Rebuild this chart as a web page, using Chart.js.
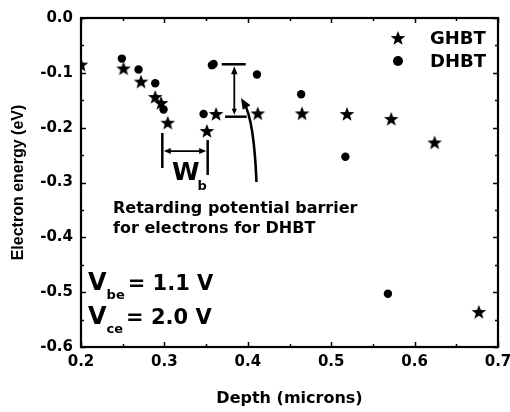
<!DOCTYPE html>
<html><head><meta charset="utf-8">
<script src="https://cdn.jsdelivr.net/npm/chart.js@4/dist/chart.umd.min.js"></script>
<style>html,body{margin:0;padding:0;background:#fff}#wrap{width:510px;height:412px}</style>
</head><body><div id="wrap"><canvas id="c" width="510" height="412"></canvas></div>
<script>
// ---- data ----
const ghbtDepth = [0.200, 0.251, 0.272, 0.289, 0.296, 0.304, 0.351, 0.362, 0.412, 0.465, 0.519, 0.572, 0.624, 0.677];
const ghbtEnergy = [-0.085, -0.092, -0.116, -0.144, -0.155, -0.191, -0.206, -0.175, -0.174, -0.174, -0.175, -0.184, -0.227, -0.536];
const dhbtDepth = [0.249, 0.269, 0.289, 0.299, 0.347, 0.357, 0.359, 0.411, 0.464, 0.517, 0.568];
const dhbtEnergy = [-0.074, -0.094, -0.119, -0.167, -0.175, -0.086, -0.084, -0.103, -0.139, -0.253, -0.503];
const xTickValues = [0.2, 0.3, 0.4, 0.5, 0.6, 0.7];
const xMinorValues = [0.25, 0.35, 0.45, 0.55, 0.65];
const yTickValues = [0.0, -0.1, -0.2, -0.3, -0.4, -0.5, -0.6];
const yMinorValues = [-0.05, -0.15, -0.25, -0.35, -0.45, -0.55];
const seriesNames = ['GHBT', 'DHBT'];

// annotation geometry in data units
const wbBars = [{x: 0.2975, y1: -0.2097, y2: -0.2736}, {x: 0.3519, y1: -0.2225, y2: -0.2863}];
const wbArrow = {x1: 0.2975, x2: 0.3519, y: -0.2426};
const barrierBars = [{x1: 0.3687, x2: 0.3975, y: -0.0844}, {x1: 0.3727, x2: 0.3987, y: -0.180}];
const barrierArrow = {x: 0.3838, y1: -0.0844, y2: -0.180};
const curveArrow = {p0: [0.4104, -0.2991], c: [0.4074, -0.1860], p2: [0.3918, -0.1459]};
const noteLines = ['Retarding potential barrier', 'for electrons for DHBT'];
const notePos = {x: 0.2384, y: [-0.3562, -0.3927]};
const biasLines = [['V', 'be', '= 1.1 V'], ['V', 'ce', '= 2.0 V']];
const biasPos = {x: 0.2084, y: [-0.4961, -0.5581]};
const wbPos = {x: 0.3091, y: -0.2955};

const HF = '"DejaVu Sans", sans-serif';

function makeStar(size){
  const c = document.createElement('canvas');
  c.width = size; c.height = size;
  const g = c.getContext('2d');
  const cx = size/2, cy = size/2 + 0.6, R = size/2 - 0.3, r = R*0.42;
  g.beginPath();
  for (let i = 0; i < 10; i++){
    const rad = i % 2 ? r : R;
    const a = -Math.PI/2 + i*Math.PI/5;
    const px = cx + rad*Math.cos(a), py = cy + rad*Math.sin(a);
    i ? g.lineTo(px, py) : g.moveTo(px, py);
  }
  g.closePath(); g.fillStyle = '#000'; g.fill();
  return c;
}
const star = makeStar(16);

function head(ctx, x, y, ang, len, hw){
  ctx.beginPath();
  ctx.moveTo(x, y);
  ctx.lineTo(x - len*Math.cos(ang) + hw*Math.sin(ang), y - len*Math.sin(ang) - hw*Math.cos(ang));
  ctx.lineTo(x - len*Math.cos(ang) - hw*Math.sin(ang), y - len*Math.sin(ang) + hw*Math.cos(ang));
  ctx.closePath(); ctx.fill();
}

const frameTicks = {
  id: 'frameTicks',
  afterDatasetsDraw(chart){
    const {ctx, chartArea: a, scales: {x, y}} = chart;
    ctx.save();
    ctx.strokeStyle = '#000'; ctx.lineWidth = 1.5;
    const vt = (vals, len) => vals.forEach(v => {
      const px = Math.round(x.getPixelForValue(v)) + 0.5;
      ctx.beginPath(); ctx.moveTo(px, a.bottom); ctx.lineTo(px, a.bottom - len);
      ctx.moveTo(px, a.top); ctx.lineTo(px, a.top + len); ctx.stroke();
    });
    const ht = (vals, len) => vals.forEach(v => {
      const py = Math.round(y.getPixelForValue(v)) + 0.5;
      ctx.beginPath(); ctx.moveTo(a.left, py); ctx.lineTo(a.left + len, py);
      ctx.moveTo(a.right, py); ctx.lineTo(a.right - len, py); ctx.stroke();
    });
    vt(xTickValues, 5); vt(xMinorValues, 3);
    ht(yTickValues, 5); ht(yMinorValues, 3);
    ctx.lineWidth = 2.2;
    ctx.strokeRect(a.left, a.top, a.right - a.left, a.bottom - a.top);
    ctx.restore();
  }
};

const annot = {
  id: 'annot',
  afterDraw(chart){
    const {ctx, chartArea: a, scales: {x, y}} = chart;
    const X = v => x.getPixelForValue(v), Y = v => y.getPixelForValue(v);
    ctx.save();
    ctx.strokeStyle = '#000'; ctx.fillStyle = '#000'; ctx.lineCap = 'butt';
    // W_b bracket
    ctx.lineWidth = 2.5;
    wbBars.forEach(b => { ctx.beginPath(); ctx.moveTo(X(b.x), Y(b.y1)); ctx.lineTo(X(b.x), Y(b.y2)); ctx.stroke(); });
    ctx.lineWidth = 1.8;
    const ax1 = X(wbArrow.x1) + 1.5, ax2 = X(wbArrow.x2) - 1.5, ay = Y(wbArrow.y);
    ctx.beginPath(); ctx.moveTo(ax1 + 5, ay); ctx.lineTo(ax2 - 5, ay); ctx.stroke();
    head(ctx, ax1, ay, Math.PI, 7, 3); head(ctx, ax2, ay, 0, 7, 3);
    // barrier bracket
    ctx.lineWidth = 2.5;
    barrierBars.forEach(b => { ctx.beginPath(); ctx.moveTo(X(b.x1), Y(b.y)); ctx.lineTo(X(b.x2), Y(b.y)); ctx.stroke(); });
    ctx.lineWidth = 1.8;
    const vx = X(barrierArrow.x), vy1 = Y(barrierArrow.y1) + 2, vy2 = Y(barrierArrow.y2) - 2;
    ctx.beginPath(); ctx.moveTo(vx, vy1 + 5); ctx.lineTo(vx, vy2 - 4); ctx.stroke();
    head(ctx, vx, vy1, -Math.PI/2, 8, 3.2); head(ctx, vx, vy2, Math.PI/2, 6, 2.6);
    // curved arrow
    const p0 = [X(curveArrow.p0[0]), Y(curveArrow.p0[1])], c = [X(curveArrow.c[0]), Y(curveArrow.c[1])], p2 = [X(curveArrow.p2[0]), Y(curveArrow.p2[1])];
    const ang = Math.atan2(p2[1] - c[1], p2[0] - c[0]);
    const e = [p2[0] - 6*Math.cos(ang), p2[1] - 6*Math.sin(ang)];
    ctx.lineWidth = 2.6;
    ctx.beginPath(); ctx.moveTo(p0[0], p0[1]); ctx.quadraticCurveTo(c[0], c[1], e[0], e[1]); ctx.stroke();
    head(ctx, p2[0], p2[1], ang, 11, 4.5);
    // texts
    ctx.textBaseline = 'alphabetic'; ctx.textAlign = 'left';
    ctx.font = 'bold 25px ' + HF;
    ctx.fillText('W', X(wbPos.x), Y(wbPos.y));
    const wW = ctx.measureText('W').width;
    ctx.font = 'bold 13px ' + HF;
    ctx.fillText('b', X(wbPos.x) + wW - 2, Y(wbPos.y) + 10);
    ctx.font = 'bold 16px ' + HF;
    noteLines.forEach((t, i) => ctx.fillText(t, X(notePos.x), Y(notePos.y[i])));
    biasLines.forEach((parts, i) => {
      const bx = X(biasPos.x), by = Y(biasPos.y[i]);
      ctx.font = 'bold 24px ' + HF;
      ctx.fillText(parts[0], bx, by);
      const w1 = ctx.measureText(parts[0]).width;
      ctx.font = 'bold 13px ' + HF;
      ctx.fillText(parts[1], bx + w1, by + 9);
      const w2 = ctx.measureText(parts[1]).width;
      ctx.font = 'bold 21px ' + HF;
      ctx.fillText(parts[2], bx + w1 + w2 + 3, by);
    });
    // legend
    ctx.font = 'bold 18px ' + HF;
    ctx.textBaseline = 'middle';
    const lx = a.right - 100, tx = a.right - 68;
    const rows = [a.top + 20, a.top + 43];
    ctx.drawImage(star, lx - 8, rows[0] - 8);
    ctx.beginPath(); ctx.arc(lx, rows[1], 5, 0, Math.PI*2); ctx.fill();
    seriesNames.forEach((n, i) => ctx.fillText(n, tx, rows[i] + 1));
    ctx.restore();
  }
};

const tickFont = {family: HF, size: 15, weight: 'bold'};
new Chart(document.getElementById('c'), {
  type: 'scatter',
  data: {
    datasets: [
      {label: seriesNames[0], data: ghbtDepth.map((v, i) => ({x: v, y: ghbtEnergy[i]})),
       pointStyle: star, pointRadius: 8, backgroundColor: '#000', borderColor: '#000'},
      {label: seriesNames[1], data: dhbtDepth.map((v, i) => ({x: v, y: dhbtEnergy[i]})),
       pointStyle: 'circle', pointRadius: 4.2, borderWidth: 0, backgroundColor: '#000', borderColor: '#000'}
    ]
  },
  options: {
    responsive: false, animation: false, devicePixelRatio: 1,
    layout: {padding: {top: 18, right: 12, left: 0, bottom: 0}},
    plugins: {legend: {display: false}, tooltip: {enabled: false}},
    scales: {
      x: {
        type: 'linear', min: 0.2, max: 0.7,
        afterBuildTicks: s => { s.ticks = xTickValues.map(v => ({value: v})); },
        afterFit: s => { s.height = 65; s.paddingLeft = 0; s.paddingRight = 0; },
        grid: {display: false, drawTicks: false}, border: {display: false},
        ticks: {font: tickFont, color: '#000', padding: 6, maxRotation: 0, callback: v => Number(v).toFixed(1)},
        title: {display: true, text: 'Depth (microns)', color: '#000', font: {family: HF, size: 16, weight: 'bold'}, padding: {top: 0, bottom: 4}}
      },
      y: {
        type: 'linear', min: -0.6, max: 0,
        afterBuildTicks: s => { s.ticks = yTickValues.map(v => ({value: v})); },
        afterFit: s => { s.width = 81; s.paddingTop = 0; s.paddingBottom = 0; },
        grid: {display: false, drawTicks: false}, border: {display: false},
        ticks: {font: tickFont, color: '#000', padding: 8, callback: v => Number(v).toFixed(1)},
        title: {display: true, text: 'Electron energy (eV)', color: '#000', font: {family: '"Liberation Sans", Arial, sans-serif', size: 16, weight: 'bold'}, padding: {top: 9, bottom: 0}}
      }
    }
  },
  plugins: [frameTicks, annot]
});
</script>
</body></html>
